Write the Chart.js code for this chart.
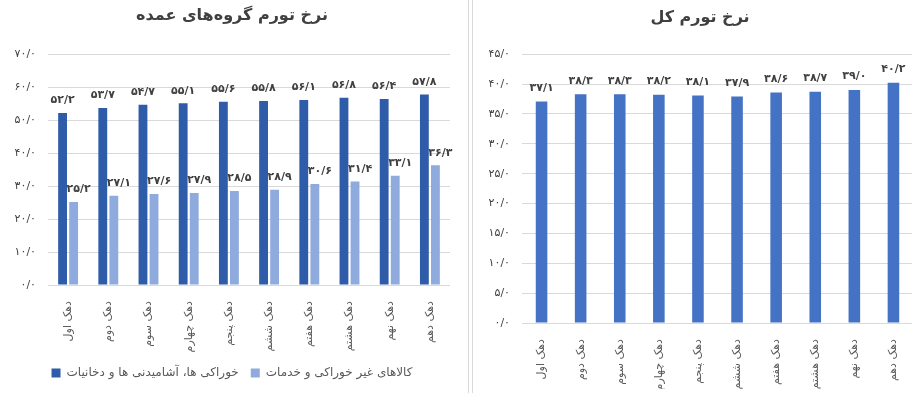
<!DOCTYPE html>
<html>
<head>
<meta charset="utf-8">
<script src="https://cdn.jsdelivr.net/npm/chart.js@4"></script>
<style>
  html, body { margin: 0; padding: 0; background: #fff; overflow: hidden; }
  body { width: 912px; height: 393px; position: relative; }
  #left { position: absolute; left: 0; top: 0; width: 468px; height: 393px; border-right: 1px solid #d9d9d9; }
  #right { position: absolute; left: 472px; top: 0; width: 458px; height: 393px; border-left: 1px solid #d9d9d9; }
</style>
</head>
<body>
<div id="left"><canvas id="groupsChart"></canvas></div>
<div id="right"><canvas id="totalChart"></canvas></div>
<script>
// decile names
const deciles = [
  "دهک اول",
  "دهک دوم",
  "دهک سوم",
  "دهک چهارم",
  "دهک پنجم",
  "دهک ششم",
  "دهک هفتم",
  "دهک هشتم",
  "دهک نهم",
  "دهک دهم",
];
const foodInflation = [52.2, 53.7, 54.7, 55.1, 55.6, 55.8, 56.1, 56.8, 56.4, 57.8];
const nonFoodInflation = [25.2, 27.1, 27.6, 27.9, 28.5, 28.9, 30.6, 31.4, 33.1, 36.3];
const totalInflation = [37.1, 38.3, 38.3, 38.2, 38.1, 37.9, 38.6, 38.7, 39.0, 40.2];

const groupsTitle = "نرخ تورم گروه‌های عمده";
const totalTitle = "نرخ تورم کل";
const foodLabel = "خوراکی ها، آشامیدنی ها و دخانیات";
const nonFoodLabel = "کالاهای غیر خوراکی و خدمات";

const faDigits = "۰۱۲۳۴۵۶۷۸۹";
function fa(v) {
  return Number(v).toFixed(1).replace(".", "/").replace(/\d/g, d => faDigits[d]);
}

const FONT = "'DejaVu Sans', sans-serif";

// draws the value over each bar
const valueLabels = {
  id: "valueLabels",
  afterDatasetsDraw(chart, args, opts) {
    const ctx = chart.ctx;
    ctx.save();
    ctx.font = opts.font;
    ctx.fillStyle = opts.color;
    ctx.textAlign = "center";
    ctx.textBaseline = "bottom";
    chart.data.datasets.forEach((ds, i) => {
      const dx = (opts.offsets && opts.offsets[i]) || 0;
      chart.getDatasetMeta(i).data.forEach((bar, j) => {
        ctx.fillText(fa(ds.data[j]), bar.x + dx, bar.y - opts.gap);
      });
    });
    ctx.restore();
  },
};

function xAxis(height) {
  return {
    grid: { display: false },
    border: { display: false },
    ticks: {
      autoSkip: false,
      maxRotation: 90,
      minRotation: 90,
      padding: 8,
      color: "#595959",
      font: { family: FONT, size: 11 },
    },
    afterFit(scale) { scale.height = height; },
  };
}

function yAxis(max, step, width) {
  return {
    min: 0,
    max: max,
    border: { display: false },
    grid: { color: "#d9d9d9", drawTicks: false },
    ticks: {
      stepSize: step,
      padding: 12,
      color: "#404040",
      font: { family: FONT, size: 11 },
      callback: v => fa(v),
    },
    afterFit(scale) { scale.width = width; },
  };
}

new Chart(document.getElementById("groupsChart"), {
  type: "bar",
  data: {
    labels: deciles,
    datasets: [
      {
        label: foodLabel,
        data: foodInflation,
        backgroundColor: "#2F5CA8",
        categoryPercentage: 0.55,
        barPercentage: 0.8,
      },
      {
        label: nonFoodLabel,
        data: nonFoodInflation,
        backgroundColor: "#8FAADC",
        categoryPercentage: 0.55,
        barPercentage: 0.8,
      },
    ],
  },
  options: {
    responsive: true,
    maintainAspectRatio: false,
    animation: false,
    layout: { padding: { left: 14, right: 18, top: 0, bottom: 4 } },
    scales: {
      x: xAxis(70),
      y: yAxis(70, 10, 34),
    },
    plugins: {
      title: {
        display: true,
        text: groupsTitle,
        color: "#404040",
        font: { family: FONT, size: 16, weight: "bold" },
        padding: { top: 6, bottom: 29 },
      },
      legend: {
        position: "bottom",
        labels: {
          boxWidth: 9,
          boxHeight: 9,
          color: "#595959",
          font: { family: FONT, size: 12 },
          padding: 12,
        },
      },
      tooltip: { enabled: false },
      valueLabels: { font: "bold 11px " + FONT, color: "#404040", gap: 7, offsets: [0, 5] },
    },
  },
  plugins: [valueLabels],
});

new Chart(document.getElementById("totalChart"), {
  type: "bar",
  data: {
    labels: deciles,
    datasets: [
      {
        label: totalTitle,
        data: totalInflation,
        backgroundColor: "#4472C4",
        categoryPercentage: 0.8,
        barPercentage: 0.37,
      },
    ],
  },
  options: {
    responsive: true,
    maintainAspectRatio: false,
    animation: false,
    layout: { padding: { left: 14, right: 18, top: 0, bottom: 4 } },
    scales: {
      x: xAxis(66),
      y: yAxis(45, 5, 35),
    },
    plugins: {
      title: {
        display: true,
        text: totalTitle,
        color: "#404040",
        font: { family: FONT, size: 16, weight: "bold" },
        padding: { top: 8, bottom: 27 },
      },
      legend: { display: false },
      tooltip: { enabled: false },
      valueLabels: { font: "bold 11px " + FONT, color: "#404040", gap: 8, offsets: [0] },
    },
  },
  plugins: [valueLabels],
});
</script>
</body>
</html>
